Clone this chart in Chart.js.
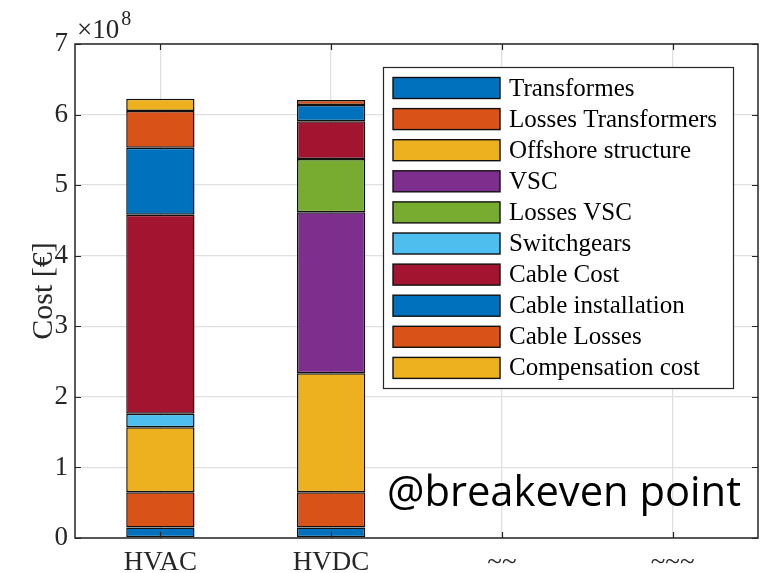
<!DOCTYPE html>
<html>
<head>
<meta charset="utf-8">
<script src="https://cdn.jsdelivr.net/npm/chart.js@4"></script>
<style>
  html, body { margin: 0; padding: 0; background: #fff; }
  #wrap { width: 763px; height: 573px; position: relative; }
</style>
</head>
<body>
<div id="wrap"><canvas id="costChart" width="763" height="573"></canvas></div>
<script>
// Cost breakdown at the breakeven point, values in units of 10^8 EUR
const categories = ['HVAC', 'HVDC', '~~', '~~~'];

const transformes        = [0.15, 0.15, null, null];
const lossesTransformers = [0.50, 0.50, null, null];
const offshoreStructure  = [0.92, 1.685, null, null];
const vsc                = [0, 2.28, null, null];
const lossesVsc          = [0, 0.755, null, null];
const switchgears        = [0.19, 0, null, null];
const cableCost          = [2.82, 0.535, null, null];
const cableInstallation  = [0.95, 0.23, null, null];
const cableLosses        = [0.52, 0.07, null, null];
const compensationCost   = [0.175, 0, null, null];

const yTicks = [0, 1, 2, 3, 4, 5, 6, 7];

const series = [
  { label: 'Transformes',         data: transformes,        color: '#0072BD' },
  { label: 'Losses Transformers', data: lossesTransformers, color: '#D95319' },
  { label: 'Offshore structure',  data: offshoreStructure,  color: '#EDB120' },
  { label: 'VSC',                 data: vsc,                color: '#7E2F8E' },
  { label: 'Losses VSC',          data: lossesVsc,          color: '#77AC30' },
  { label: 'Switchgears',         data: switchgears,        color: '#4DBEEE' },
  { label: 'Cable Cost',          data: cableCost,          color: '#A2142F' },
  { label: 'Cable installation',  data: cableInstallation,  color: '#0072BD' },
  { label: 'Cable Losses',        data: cableLosses,        color: '#D95319' },
  { label: 'Compensation cost',   data: compensationCost,   color: '#EDB120' }
];

const SERIF = "'Liberation Serif', 'Times New Roman', serif";
const AXIS_COLOR = '#262626';

// axes box, inward ticks, exponent, legend and the annotation text
const decorations = {
  id: 'decorations',
  afterDraw(chart) {
    const ctx = chart.ctx;
    const a = chart.chartArea;
    const xs = chart.scales.x;
    const ys = chart.scales.y;
    ctx.save();

    // inward tick marks on all four sides
    ctx.strokeStyle = AXIS_COLOR;
    ctx.lineWidth = 1.2;
    ctx.beginPath();
    yTicks.forEach(v => {
      const y = Math.round(ys.getPixelForValue(v)) + 0.5;
      ctx.moveTo(a.left, y); ctx.lineTo(a.left + 6, y);
      ctx.moveTo(a.right, y); ctx.lineTo(a.right - 6, y);
    });
    categories.forEach((c, i) => {
      const x = Math.round(xs.getPixelForValue(i)) + 0.5;
      ctx.moveTo(x, a.bottom); ctx.lineTo(x, a.bottom - 6);
      ctx.moveTo(x, a.top); ctx.lineTo(x, a.top + 6);
    });
    ctx.stroke();

    // box around the plot
    ctx.lineWidth = 1.5;
    ctx.strokeRect(a.left, a.top, a.right - a.left, a.bottom - a.top);

    // x10^8 exponent label
    ctx.fillStyle = AXIS_COLOR;
    ctx.textBaseline = 'alphabetic';
    ctx.textAlign = 'left';
    ctx.font = '27px ' + SERIF;
    ctx.fillText('\u00d710', a.left + 2, 38);
    const w = ctx.measureText('\u00d710').width;
    ctx.font = '20px ' + SERIF;
    ctx.fillText('8', a.left + 4 + w, 25);

    // legend
    const lx = 383, ly = 67, lw = 350, lh = 321;
    ctx.fillStyle = '#fff';
    ctx.fillRect(lx, ly, lw, lh);
    ctx.strokeStyle = AXIS_COLOR;
    ctx.lineWidth = 1.2;
    ctx.strokeRect(lx + 0.5, ly + 0.5, lw, lh);
    ctx.font = '25px ' + SERIF;
    ctx.textBaseline = 'middle';
    chart.data.datasets.forEach((ds, i) => {
      const cy = 88 + i * 31.1;
      ctx.fillStyle = ds.backgroundColor;
      ctx.fillRect(393, cy - 10.5, 107, 21);
      ctx.strokeStyle = '#111';
      ctx.lineWidth = 1.4;
      ctx.strokeRect(393, cy - 10.5, 107, 21);
      ctx.fillStyle = '#000';
      ctx.fillText(ds.label, 509, cy + 1);
    });

    // annotation
    ctx.font = "42px 'Open Sans', 'Noto Sans', sans-serif";
    ctx.fillStyle = '#000';
    ctx.textBaseline = 'alphabetic';
    ctx.fillText('@breakeven point', 387, 506, 354);

    ctx.restore();
  }
};

new Chart(document.getElementById('costChart'), {
  type: 'bar',
  data: {
    labels: categories,
    datasets: series.map(s => ({
      label: s.label,
      data: s.data,
      backgroundColor: s.color,
      borderColor: '#111',
      borderWidth: 1.5,
      borderSkipped: false,
      barPercentage: 0.4,
      categoryPercentage: 1.0
    }))
  },
  options: {
    responsive: false,
    animation: false,
    layout: { padding: { top: 44, right: 5, left: 0, bottom: 0 } },
    plugins: {
      legend: { display: false },
      tooltip: { enabled: false }
    },
    scales: {
      x: {
        stacked: true,
        offset: true,
        afterFit: scale => { scale.height = 35; },
        border: { display: false },
        grid: { offset: false, color: '#e0e0e0', lineWidth: 1.3, drawTicks: false },
        ticks: { color: AXIS_COLOR, font: { family: SERIF, size: 27 }, padding: 9, maxRotation: 0 }
      },
      y: {
        stacked: true,
        min: 0,
        max: 7,
        afterFit: scale => { scale.width = 75; },
        afterBuildTicks: scale => { scale.ticks = yTicks.map(v => ({ value: v })); },
        border: { display: false },
        grid: { color: '#e0e0e0', lineWidth: 1.3, drawTicks: false },
        ticks: { color: AXIS_COLOR, font: { family: SERIF, size: 27 }, padding: 7 },
        title: {
          display: true,
          text: 'Cost [\u20ac]',
          color: AXIS_COLOR,
          font: { family: SERIF, size: 30 },
          padding: { top: 26, bottom: 0 }
        }
      }
    }
  },
  plugins: [decorations]
});
</script>
</body>
</html>
